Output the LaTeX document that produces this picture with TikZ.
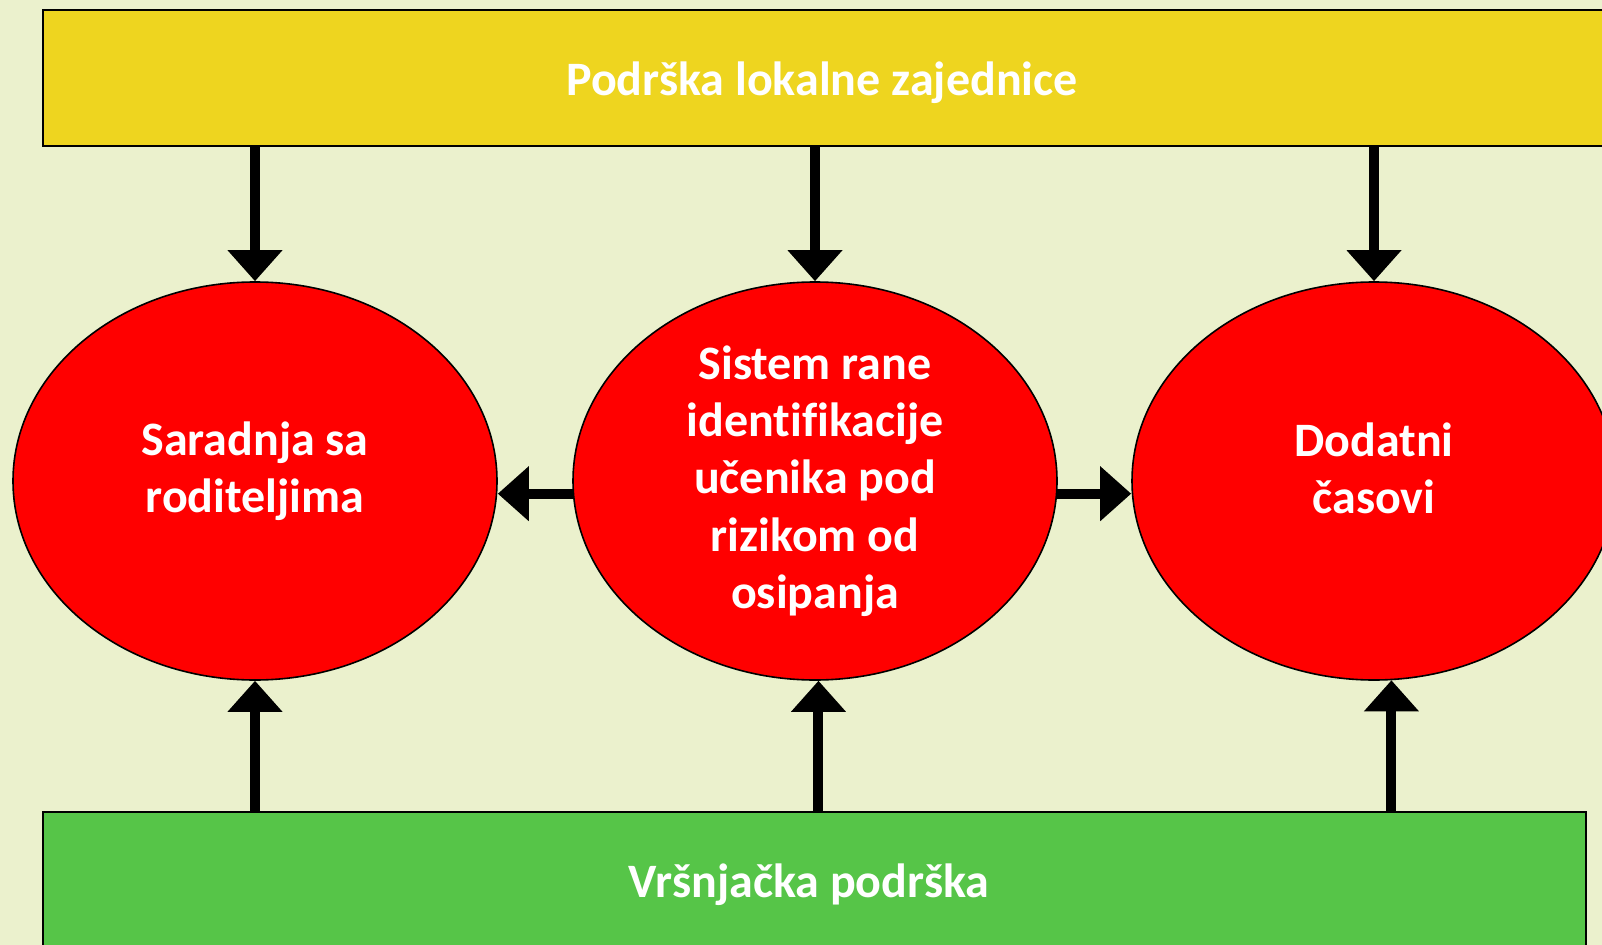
\documentclass[tikz,border=0pt]{standalone}
\usepackage{fontspec}
\setmainfont{Carlito}[Ligatures=NoCommon]
\usetikzlibrary{arrows.meta,shapes.geometric}
\definecolor{bg}{HTML}{EBF1CD}
\definecolor{ybox}{HTML}{EED51F}
\definecolor{gbox}{HTML}{56C548}
\definecolor{rball}{HTML}{FF0000}
\begin{document}
\begin{tikzpicture}[x=0.75pt,y=-0.75pt,
  lbl/.style={text=white, font=\bfseries\fontsize{36}{43}\selectfont, align=center, inner sep=0pt},
  bar/.style={draw=black, line width=1.2pt, rectangle, inner sep=0pt},
  ball/.style={draw=black, line width=1.2pt, fill=rball, ellipse, inner sep=0pt,
    minimum width=363pt, minimum height=298.5pt},
  arr/.style={line width=7.5pt, -{Triangle[length=23.25pt,width=39.75pt]}}]
\useasboundingbox (0,0) rectangle (1602,945);
\fill[bg] (0,0) rectangle (1602,945);
\node[bar, fill=ybox, minimum width=1170.75pt, minimum height=102pt] (top) at (823.5,78) {};
\node[bar, fill=gbox, minimum width=1157.25pt, minimum height=103.5pt] (bot) at (814.5,881) {};
\node[lbl] (toptext) at (822,83) {Podrška lokalne zajednice};
\node[lbl] (bottext) at (809,885) {Vršnjačka podrška};
\node[ball] (A) at (255,481) {};
\node[ball, lbl, inner sep=0pt] (B) at (815,481) {Sistem rane\\identifikacije\\učenika pod\\rizikom od\\osipanja};
\node[ball] (C) at (1374,481) {};
\node[lbl] (Atext) at (255,471) {Saradnja sa\\roditeljima};
\node[lbl] (Ctext) at (1374,468) {Dodatni\\časovi};
\draw[arr] (top.south -| A.north) -- (A.north);
\draw[arr] (top.south -| B.north) -- (B.north);
\draw[arr] (top.south -| C.north) -- (C.north);
\draw[arr] (bot.north -| A.south) -- (A.south);
\draw[arr] (bot.north -| B.-89.5) -- (B.-89.5);
\draw[arr] (bot.north -| C.-85.5) -- (C.-85.5);
\draw[arr] (B.183) -- (B.183 -| A.east);
\draw[arr] (B.-3) -- (B.-3 -| C.west);
\end{tikzpicture}
\end{document}
